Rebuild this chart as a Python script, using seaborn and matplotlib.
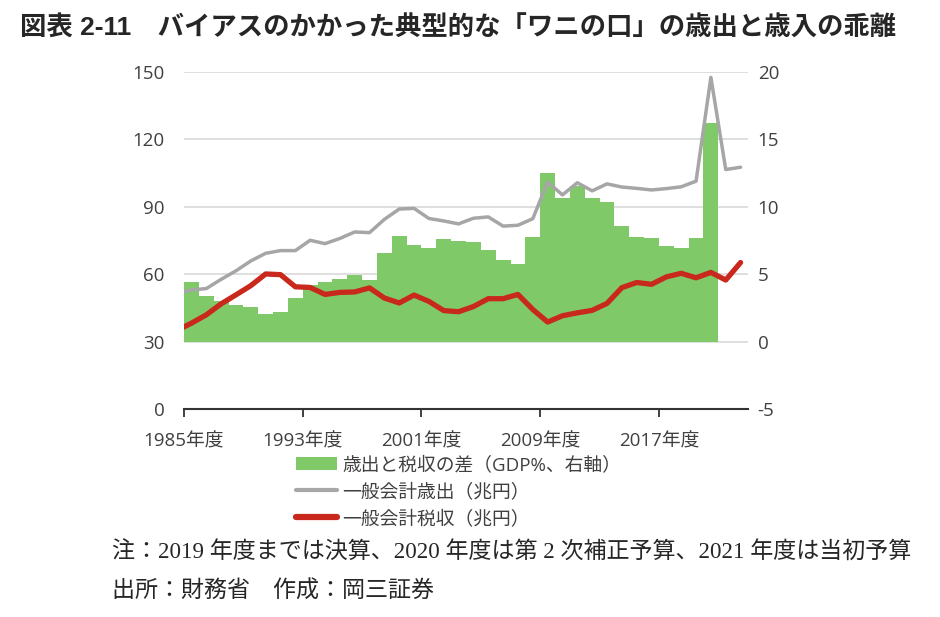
import matplotlib
matplotlib.use("Agg")
import matplotlib.pyplot as plt
import seaborn as sns
from matplotlib.patches import Patch
from matplotlib.lines import Line2D

# 歳出と税収の差 (GDP%), 1985-2020
bar_years = list(range(1985, 2021))
gap_gdp = [4.42, 3.36, 3.03, 2.74, 2.6, 2.03, 2.2, 3.26, 4.2, 4.42,
           4.62, 4.92, 4.55, 6.6, 7.87, 7.17, 6.95, 7.64, 7.46, 7.38,
           6.8, 6.03, 5.73, 7.76, 12.49, 10.63, 11.55, 10.63, 10.39, 8.55,
           7.76, 7.66, 7.1, 6.97, 7.71, 16.2]

# 一般会計 歳出 / 税収 (兆円), 1984-2022 (1984 is cut off at the left edge)
line_years = list(range(1984, 2023))
spending = [51.5,
            53.0, 53.6, 57.7, 61.5, 65.9, 69.3, 70.5, 70.5, 75.1, 73.6,
            75.9, 78.8, 78.5, 84.4, 89.0, 89.3, 84.8, 83.7, 82.4, 84.9,
            85.5, 81.4, 81.8, 84.7, 101.0, 95.3, 100.7, 97.1, 100.2, 98.8,
            98.2, 97.5, 98.1, 98.9, 101.4, 147.6, 106.6, 107.6]
tax = [34.9,
       38.2, 41.9, 46.8, 50.8, 54.9, 60.1, 59.8, 54.4, 54.1, 51.0,
       51.9, 52.1, 53.9, 49.4, 47.2, 50.7, 47.9, 43.8, 43.3, 45.6,
       49.1, 49.1, 51.0, 44.3, 38.7, 41.5, 42.8, 43.9, 47.0, 54.0,
       56.3, 55.5, 58.8, 60.4, 58.4, 60.8, 57.4, 65.2]

tick_labels = ["1985年度", "1993年度", "2001年度", "2009年度", "2017年度"]
left_ticks = [0, 30, 60, 90, 120, 150]
right_ticks = [-5, 0, 5, 10, 15, 20]

GREEN = "#80c968"
GRAY = "#a6a6a6"
RED = "#c9281c"
TXT = "#404040"

sns.set_style("white")
plt.rcParams["font.family"] = ["Open Sans", "Noto Sans CJK JP", "DejaVu Sans"]
plt.rcParams["axes.unicode_minus"] = False

fig = plt.figure(figsize=(9.4, 6.17), dpi=100)
ax = fig.add_axes([184 / 940, 1 - 409 / 617, 564 / 940, 337 / 617])
ax2 = ax.twinx()

sns.barplot(x=bar_years, y=gap_gdp, native_scale=True, width=1, color=GREEN,
            saturation=1, linewidth=0, antialiased=False, ax=ax)
sns.lineplot(x=line_years, y=spending, color=GRAY, lw=2.5, ax=ax2,
             solid_joinstyle="round", solid_capstyle="round")
sns.lineplot(x=line_years, y=tax, color=RED, lw=3.8, ax=ax2,
             solid_joinstyle="round", solid_capstyle="round")

ax.set_xlim(1984.5, 2022.5)
ax.set_ylim(-5, 20)
ax2.set_ylim(0, 150)
ax.set_yticks(right_ticks)
ax2.set_yticks(left_ticks)
ax.set_xticks([1984.5, 1992.5, 2000.5, 2008.5, 2016.5])
ax.set_xticklabels(tick_labels)

ax.yaxis.tick_right()
ax2.yaxis.tick_left()

ax.set_axisbelow(True)
ax.grid(axis="y", color="#d9d9d9", lw=1.2)
ax.grid(axis="x", visible=False)

for s in ["left", "right", "top"]:
    ax.spines[s].set_visible(False)
for s in ax2.spines.values():
    s.set_visible(False)
ax.spines["bottom"].set_color("#333333")
ax.spines["bottom"].set_linewidth(1.5)

ax.tick_params(axis="x", direction="out", length=6, width=1.3, color="#333333",
               pad=11, labelsize=13.5, labelcolor=TXT, bottom=True)
ax.tick_params(axis="y", length=0, pad=7, labelsize=13.5, labelcolor=TXT)
ax2.tick_params(axis="y", length=0, pad=14, labelsize=13.5, labelcolor=TXT)
ax.set_xlabel("")
ax.set_ylabel("")
ax2.set_ylabel("")

handles = [Patch(facecolor=GREEN, edgecolor="none"),
           Line2D([], [], color=GRAY, lw=3),
           Line2D([], [], color=RED, lw=4.5, solid_capstyle="round")]
labels = ["歳出と税収の差（GDP%、右軸）", "一般会計歳出（兆円）", "一般会計税収（兆円）"]
fig.legend(handles, labels, loc="upper left",
           bbox_to_anchor=(296 / 940, 1 - 456 / 617), frameon=False,
           fontsize=13.5, handlelength=2.2, handletextpad=0.25,
           labelspacing=0.48, borderpad=0, borderaxespad=0,
           labelcolor=TXT)

fig.text(20 / 940, 1 - 28 / 617,
         "図表 2-11　バイアスのかかった典型的な「ワニの口」の歳出と歳入の乖離",
         fontsize=19, weight="bold", va="center", ha="left",
         family=["Liberation Sans", "Noto Sans CJK JP"])

note_font = ["Liberation Serif", "Noto Sans CJK JP"]
fig.text(112 / 940, 1 - 553 / 617,
         "注：2019 年度までは決算、2020 年度は第 2 次補正予算、2021 年度は当初予算",
         fontsize=16.6, va="center", ha="left", family=note_font)
fig.text(112 / 940, 1 - 592 / 617, "出所：財務省　作成：岡三証券",
         fontsize=16.6, va="center", ha="left", family=note_font)

fig.savefig("out.png", dpi=100)
